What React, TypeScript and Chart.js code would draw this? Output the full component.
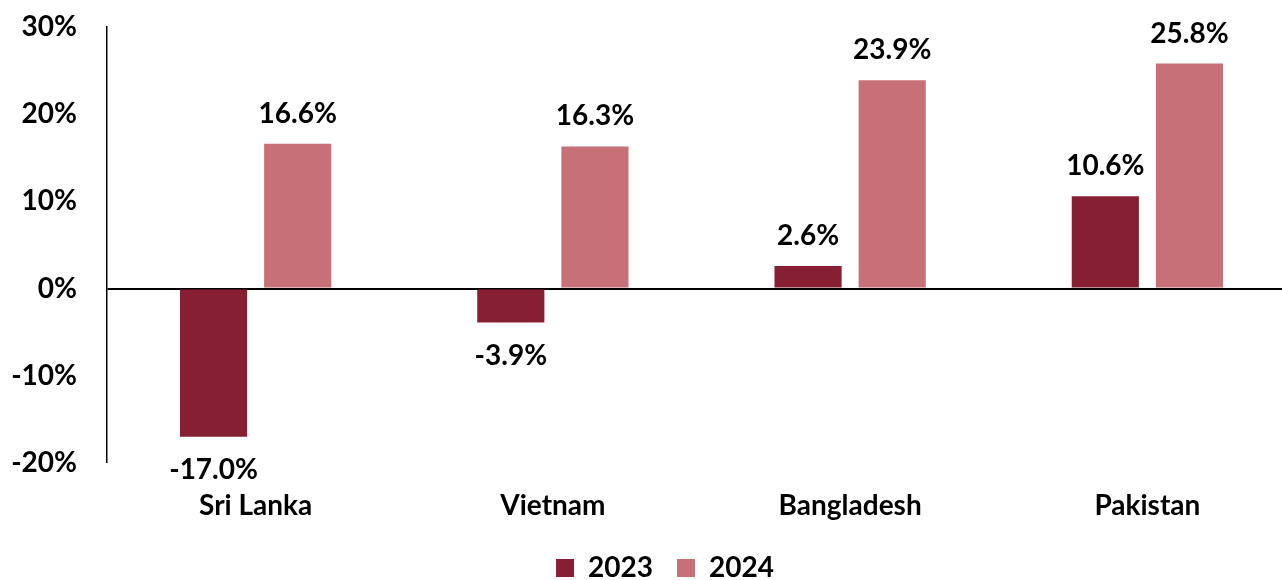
import React, { useEffect, useRef } from "react";
import { Chart, registerables } from "chart.js";

Chart.register(...registerables);

const categories = ["Sri Lanka", "Vietnam", "Bangladesh", "Pakistan"];
const series2023 = [-17.0, -3.9, 2.6, 10.6];
const series2024 = [16.6, 16.3, 23.9, 25.8];
const seriesLabels = ["2023", "2024"];
const yTicks = { min: -20, max: 30, step: 10 };

const COLOR_2023 = "#861F31";
const COLOR_2024 = "#C87077";
const FONT = "Lato";

const dataLabelPlugin = {
  id: "dataLabels",
  afterDatasetsDraw(chart: any) {
    const ctx = chart.ctx;
    ctx.save();
    ctx.font = `bold 28px ${FONT}`;
    ctx.fillStyle = "#000";
    ctx.textAlign = "center";
    ctx.textBaseline = "alphabetic";
    chart.data.datasets.forEach((ds: any, i: number) => {
      const meta = chart.getDatasetMeta(i);
      meta.data.forEach((el: any, j: number) => {
        const v = ds.data[j] as number;
        const text = v.toFixed(1) + "%";
        const y = v >= 0 ? el.y - 21 : el.y + 42;
        ctx.fillText(text, el.x, y);
      });
    });
    ctx.restore();
  },
};

export default function App() {
  const ref = useRef<HTMLCanvasElement>(null);
  useEffect(() => {
    let chart: any = null;
    let cancelled = false;
    const make = () => {
      if (cancelled || !ref.current) return;
      chart = new Chart(ref.current, {
        type: "bar",
        data: {
          labels: categories,
          datasets: [
            { label: seriesLabels[0], data: series2023, backgroundColor: COLOR_2023, borderWidth: 0 },
            { label: seriesLabels[1], data: series2024, backgroundColor: COLOR_2024, borderWidth: 0 },
          ],
        },
        options: {
          responsive: false,
          animation: false,
          devicePixelRatio: 1,
          layout: { padding: { top: 27, left: 34, right: 34, bottom: 0 } },
          datasets: {
            bar: { categoryPercentage: 0.566, barPercentage: 0.798 },
          },
          scales: {
            x: {
              grid: { display: false, drawTicks: false },
              border: { display: false },
              afterFit: (scale: any) => {
                scale.height = 67;
              },
              ticks: {
                color: "#000",
                padding: 26,
                font: { family: FONT, size: 28, weight: "bold" },
              },
            },
            y: {
              min: yTicks.min,
              max: yTicks.max,
              afterFit: (scale: any) => {
                scale.width = 73;
                scale.paddingTop = 0;
                scale.paddingBottom = 0;
                scale._computeLabelArea = () => undefined;
              },
              ticks: {
                stepSize: yTicks.step,
                color: "#000",
                padding: 30,
                font: { family: FONT, size: 28, weight: "bold" },
                callback: (v: any) => v + "%",
              },
              border: { display: true, color: "#000", width: 1.5 },
              grid: {
                drawTicks: false,
                color: (c: any) => (c.tick && c.tick.value === 0 ? "#000" : "rgba(0,0,0,0)"),
                lineWidth: (c: any) => (c.tick && c.tick.value === 0 ? 2 : 0),
              },
            },
          },
          plugins: {
            legend: {
              position: "bottom",
              labels: {
                color: "#000",
                boxWidth: 18,
                boxHeight: 18,
                padding: 24,
                font: { family: FONT, size: 28, weight: "bold" },
              },
            },
            tooltip: { enabled: false },
          },
        },
        plugins: [dataLabelPlugin],
      } as any);
    };
    const fonts: any = (document as any).fonts;
    if (fonts && fonts.load) {
      fonts.load(`bold 28px ${FONT}`).then(make, make);
    } else {
      make();
    }
    return () => {
      cancelled = true;
      if (chart) chart.destroy();
    };
  }, []);
  return (
    <div
      style={{
        position: "fixed",
        left: 0,
        top: 0,
        width: 1282,
        height: 580,
        overflow: "hidden",
        background: "#fff",
      }}
    >
      <canvas ref={ref} width={1330} height={592} style={{ width: 1330, height: 592, display: "block" }} />
    </div>
  );
}
